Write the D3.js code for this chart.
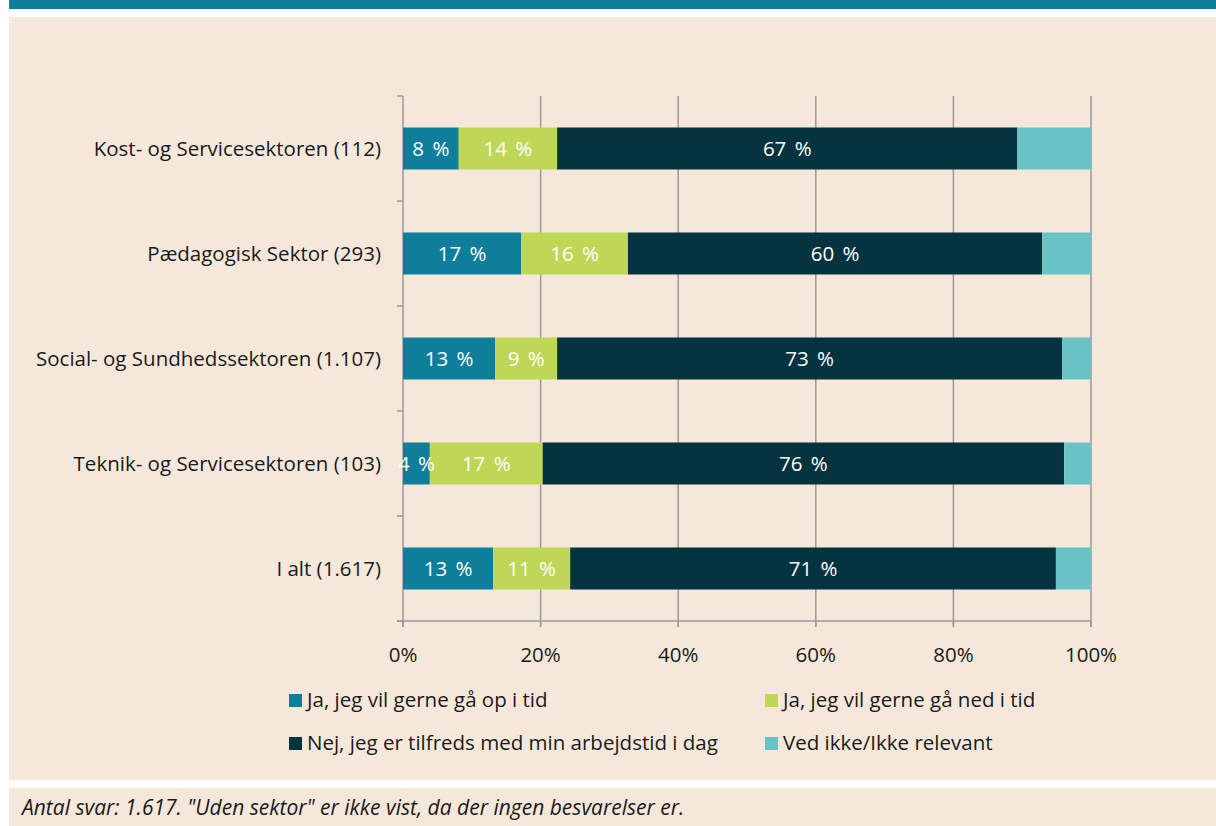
<!DOCTYPE html>
<html><head><meta charset="utf-8">
<script src="https://cdn.jsdelivr.net/npm/d3@7"></script>
<style>
html,body{margin:0;padding:0;background:#fff;}
svg{display:block;font-family:"Open Sans","Noto Sans",sans-serif;}
</style></head>
<body>
<svg id="c" width="1216" height="826"></svg>
<script>
const categories = ["Kost- og Servicesektoren (112)","Pædagogisk Sektor (293)","Social- og Sundhedssektoren (1.107)","Teknik- og Servicesektoren (103)","I alt (1.617)"];
const seriesNames = ["Ja, jeg vil gerne gå op i tid","Ja, jeg vil gerne gå ned i tid","Nej, jeg er tilfreds med min arbejdstid i dag","Ved ikke/Ikke relevant"];
const opTid   = [8.1, 17.2, 13.4, 3.9, 13.1];
const nedTid  = [14.3, 15.5, 9.0, 16.4, 11.2];
const tilfreds= [66.9, 60.2, 73.4, 75.8, 70.6];
const vedIkke = [10.7, 7.1, 4.2, 3.9, 5.1];
const labelsOp = ["8 %","17 %","13 %","4 %","13 %"];
const labelsNed = ["14 %","16 %","9 %","17 %","11 %"];
const labelsTil = ["67 %","60 %","73 %","76 %","71 %"];
const xTicks = [0,20,40,60,80,100];
const tickLabels = ["0%","20%","40%","60%","80%","100%"];
const footnote = "Antal svar: 1.617. \"Uden sektor\" er ikke vist, da der ingen besvarelser er.";

const colors = ["#0f7e9b","#bfd757","#063340","#69c3c6"];
const svg = d3.select("#c");
const bg = "#f5e8da";
const fs = 20.5;
svg.append("rect").attr("x",9).attr("y",0).attr("width",1207).attr("height",9).attr("fill","#0f7e9b");
svg.append("rect").attr("x",9).attr("y",17).attr("width",1207).attr("height",763).attr("fill",bg);
svg.append("rect").attr("x",9).attr("y",788).attr("width",1207).attr("height",38).attr("fill",bg);

const x = d3.scaleLinear().domain([0,100]).range([403,1091]);
const y = d3.scaleBand().domain(categories).range([96,621]).padding(0);
const barH = 42;
const gridColor = "#9a9a9a";

svg.append("g").selectAll("line").data(xTicks.slice(1)).join("line")
  .attr("x1",d=>x(d)).attr("x2",d=>x(d)).attr("y1",96).attr("y2",627)
  .attr("stroke",gridColor).attr("stroke-width",1.5);

const yAxis = svg.append("g");
yAxis.append("line").attr("x1",403).attr("x2",403).attr("y1",96).attr("y2",627).attr("stroke",gridColor).attr("stroke-width",1.5);
const bounds = categories.map(c=>y(c)).concat([y(categories[categories.length-1])+y.bandwidth()]);
yAxis.selectAll("line.t").data(bounds).join("line").attr("class","t")
  .attr("x1",397).attr("x2",403).attr("y1",d=>d).attr("y2",d=>d).attr("stroke",gridColor).attr("stroke-width",1.5);
yAxis.selectAll("text").data(categories).join("text")
  .attr("x",381).attr("y",d=>y(d)+y.bandwidth()/2).attr("dy","0.35em")
  .attr("text-anchor","end").attr("font-size",fs).attr("fill","#1a1a1a").text(d=>d);

const xAxis = svg.append("g");
xAxis.append("line").attr("x1",397).attr("x2",1091).attr("y1",621).attr("y2",621).attr("stroke",gridColor).attr("stroke-width",1.5);
xAxis.selectAll("line.t").data(xTicks).join("line").attr("class","t")
  .attr("x1",d=>x(d)).attr("x2",d=>x(d)).attr("y1",621).attr("y2",627).attr("stroke",gridColor).attr("stroke-width",1.5);
xAxis.selectAll("text").data(xTicks).join("text")
  .attr("x",d=>x(d)).attr("y",655).attr("dy","0.35em").attr("text-anchor","middle")
  .attr("font-size",fs).attr("fill","#1a1a1a").text((d,i)=>tickLabels[i]);

const series = [opTid,nedTid,tilfreds,vedIkke];
const labels = [labelsOp,labelsNed,labelsTil,null];
const stacked = d3.stack().keys([0,1,2,3]).value((d,k)=>series[k][d])(categories.map((c,i)=>i));
const gb = svg.append("g");
stacked.forEach((layer,k)=>{
  gb.selectAll(null).data(layer).join("rect")
    .attr("x",d=>x(d[0])).attr("width",d=>x(d[1])-x(d[0]))
    .attr("y",(d,i)=>y(categories[i])+(y.bandwidth()-barH)/2).attr("height",barH)
    .attr("fill",colors[k]);
});
stacked.forEach((layer,k)=>{
  if(!labels[k]) return;
  gb.selectAll(null).data(layer).join("text")
    .attr("x",d=>(x(d[0])+x(d[1]))/2).attr("y",(d,i)=>y(categories[i])+y.bandwidth()/2).attr("dy","0.35em")
    .attr("text-anchor","middle").attr("font-size",fs).attr("word-spacing",3).attr("fill","#fff")
    .text((d,i)=>labels[k][i]);
});

const legPos = [[289,700],[765,700],[289,743],[765,743]];
const lg = svg.append("g");
seriesNames.forEach((n,i)=>{
  lg.append("rect").attr("x",legPos[i][0]).attr("y",legPos[i][1]-6).attr("width",13).attr("height",13).attr("fill",colors[i]);
  lg.append("text").attr("x",legPos[i][0]+18).attr("y",legPos[i][1]).attr("dy","0.35em")
    .attr("font-size",fs).attr("fill","#1a1a1a").text(n);
});

svg.append("text").attr("x",22).attr("y",808).attr("dy","0.35em").attr("font-style","italic")
  .attr("font-size",21).attr("fill","#1a1a1a").text(footnote);
</script>
</body></html>
